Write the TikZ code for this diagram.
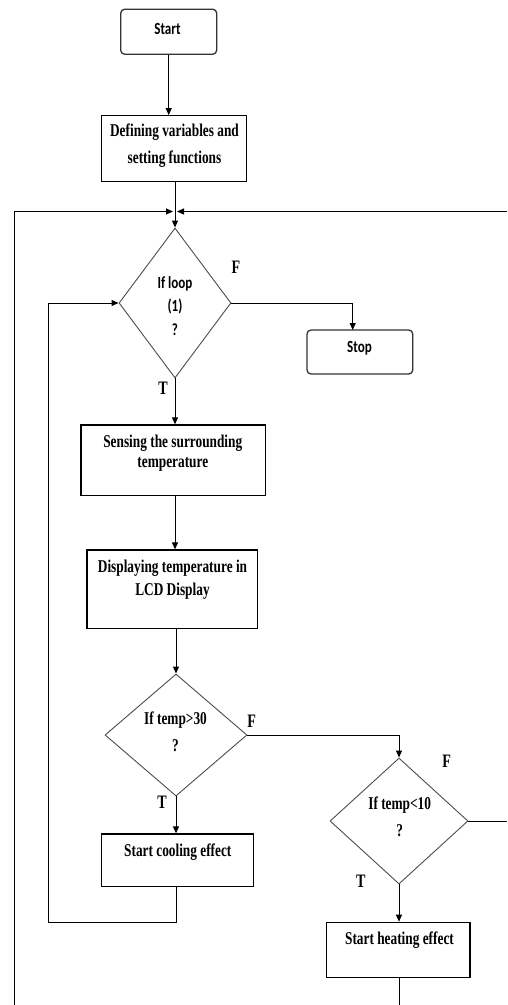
\documentclass[tikz,border=0pt]{standalone}
\usepackage{fontspec}
\setmainfont{Liberation Serif}
\newfontfamily\tbf[FakeStretch=0.74]{Liberation Serif}
\newfontfamily\cbf[FakeStretch=0.77]{Carlito}
\usetikzlibrary{shapes.geometric,arrows.meta,calc}
\begin{document}
\begin{tikzpicture}[x=1pt,y=-1pt,
  line width=1pt,
  arr/.style={-{Triangle[length=7pt,width=6pt]}},
  roundbox/.style={draw=black!80,line width=1.3pt,rounded corners=4pt,inner sep=0pt},
  box/.style={draw=black,line width=1.2pt,inner sep=0pt},
  dia/.style={draw=black!70,line width=0.9pt,diamond,inner sep=0pt},
  txt/.style={inner sep=0pt,align=center,font=\tbf\bfseries\fontsize{18}{20}\selectfont},
  stxt/.style={inner sep=0pt,align=center,font=\cbf\bfseries\fontsize{17}{23.5}\selectfont},
  lbl/.style={inner sep=0pt,font=\tbf\bfseries\fontsize{19}{20}\selectfont}
]
\useasboundingbox (0,0) rectangle (507,1005);

% shapes
\node[roundbox,minimum width=96pt,minimum height=45pt] (start) at (168.7,31.7) {};
\node[stxt] (startt) at (167.5,28.5) {Start};

\node[box,minimum width=145pt,minimum height=66pt] (define) at (174.2,148.7) {};
\node[txt,font=\tbf\bfseries\fontsize{18}{27.5}\selectfont] (definet) at (174.5,145.5) {Defining variables and\\setting functions};

\node[dia,minimum width=112pt,minimum height=150pt] (d1) at (175,303) {};
\node[stxt] (d1t) at (175,306) {If loop\\(1)\\?};

\node[roundbox,minimum width=105.7pt,minimum height=44pt] (stop) at (359.9,352) {};
\node[stxt] (stopt) at (359.5,348) {Stop};

\node[box,minimum width=184.7pt,minimum height=70.7pt] (sense) at (173.3,460.3) {};
\node[txt] (senset) at (172.8,453.3) {Sensing the surrounding\\temperature};

\node[box,minimum width=170.7pt,minimum height=78.7pt] (display) at (172.3,589.3) {};
\node[txt,font=\tbf\bfseries\fontsize{18}{22.7}\selectfont] (displayt) at (172.5,579.7) {Displaying temperature in\\LCD Display};

\node[dia,minimum width=142pt,minimum height=122pt] (d2) at (176,735) {};
\node[txt,font=\tbf\bfseries\fontsize{18}{27}\selectfont] (d2t) at (175.5,731.5) {If temp>30\\?};

\node[box,minimum width=151.6pt,minimum height=52.7pt] (cool) at (177.5,860.3) {};
\node[txt] (coolt) at (177.8,851.7) {Start cooling effect};

\node[dia,minimum width=138pt,minimum height=126pt] (d3) at (399,821) {};
\node[txt,font=\tbf\bfseries\fontsize{18}{27}\selectfont] (d3t) at (399.7,816.3) {If temp<10\\?};

\node[box,minimum width=143.3pt,minimum height=55pt] (heat) at (398.3,949.8) {};
\node[txt] (heatt) at (399.5,940) {Start heating effect};

% labels
\node[lbl] (f1) at (236,267) {F};
\node[lbl] (t1) at (163,388) {T};
\node[lbl] (f2) at (251.7,721.7) {F};
\node[lbl] (t2) at (162,802.7) {T};
\node[lbl] (f3) at (446.7,761.7) {F};
\node[lbl] (t3) at (360.7,881) {T};

% helper coordinates
\coordinate (J) at (175,211.5);
\coordinate (TR) at (507,211.5);
\coordinate (BL) at (14,1005);
\coordinate (LB) at (48,922.3);
\coordinate (stopin) at (352.7,330);

% connectors
\draw[arr] (start.south) -- (start.south |- define.north);
\draw (define.south -| J) -- (J);
\draw[arr] (J) -- (d1.north);
\draw[arr] (BL) |- ([xshift=-2pt]J);
\draw[arr] (TR) -- ([xshift=2pt]J);
\draw[arr] (d1.east) -| (stopin);
\draw[arr] (d1.south) -- (d1.south |- sense.north);
\draw[arr] (sense.south -| d1.south) -- (d1.south |- display.north);
\draw[arr] (d2.north |- display.south) -- (d2.north);
\draw[arr] (d2.south) -- (d2.south |- cool.north);
\draw[arr] (d2.south |- cool.south) |- (LB) |- (d1.west);
\draw[arr] (d2.east) -| (d3.north);
\draw[arr] (d3.south) -- (d3.south |- heat.north);
\draw (d3.east) -- (d3.east -| TR);
\draw (heat.south -| d3.south) -- (d3.south |- BL);
\end{tikzpicture}
\end{document}
